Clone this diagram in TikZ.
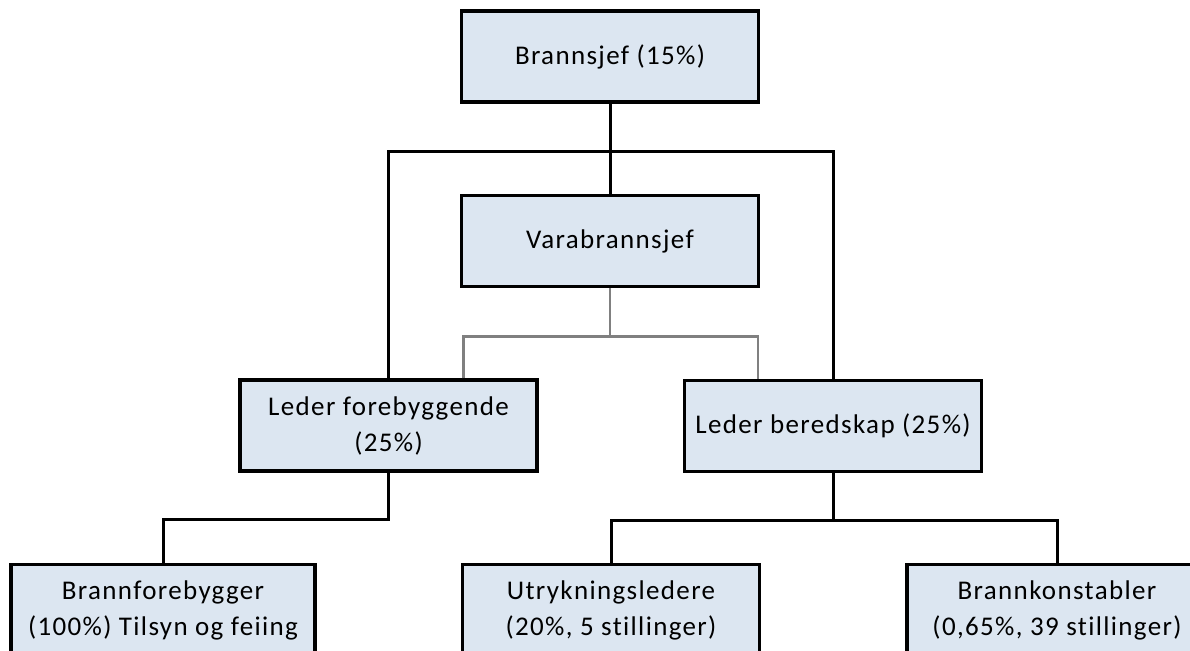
\documentclass[tikz,border=0pt]{standalone}
\usepackage{fontspec}
\setmainfont{Carlito}[LetterSpace=5,Ligatures=NoCommon]
\usetikzlibrary{calc}
\definecolor{boksfarge}{HTML}{DCE6F1}
\definecolor{graafarge}{HTML}{808080}
\begin{document}
\begin{tikzpicture}[x=1pt,y=-1pt,font=\fontsize{27}{36}\selectfont,
    boks/.style={draw=black,line width=3.5pt,fill=boksfarge,minimum width=297pt,
      minimum height=91pt,inner sep=0pt,align=center},
    linje/.style={line width=3pt},
    graalinje/.style={draw=graafarge,line width=2.5pt}]
    \useasboundingbox (0,0) rectangle (1190,650);
    \clip (0,0) rectangle (1190,650);
    % Bokser
    \node[boks] (sjef) at (610,56.5) {Brannsjef (15\%)};
    \node[boks] (vara) at (610,241) {Varabrannsjef};
    \node[boks] (forebygg) at (388.5,425.5) {Leder forebyggende\\(25\%)};
    \node[boks] (beredskap) at (833,426) {Leder beredskap (25\%)};
    \node[boks,minimum width=304pt] (brannfor) at (163,610) {Brannforebygger\\(100\%) Tilsyn og feiing};
    \node[boks] (utryk) at (611,610) {Utrykningsledere\\(20\%, 5 stillinger)};
    \node[boks,minimum width=300pt] (konst) at (1057,610) {Brannkonstabler\\(0,65\%, 39 stillinger)};
    % Linjer
    \path (sjef.south) ++(0,48) coordinate (skinne1);
    \draw[linje] (sjef.south) -- (vara.north);
    \draw[linje] (forebygg.north) |- (skinne1) -| (beredskap.north);
    \path (vara.south) ++(0,48) coordinate (skinne2);
    \coordinate (graaV) at ($(forebygg.north west)!0.75!(forebygg.north east)$);
    \coordinate (graaH) at ($(beredskap.north west)!0.25!(beredskap.north east)$);
    \draw[graalinje] (vara.south) -- (skinne2);
    \draw[graalinje] (graaV) |- (skinne2) -| (graaH);
    \path (forebygg.south) ++(0,47) coordinate (skinne3);
    \draw[linje] (forebygg.south) -- (skinne3) -| (brannfor.north);
    \path (beredskap.south) ++(0,47) coordinate (skinne4);
    \draw[linje] (beredskap.south) -- (skinne4);
    \draw[linje] (utryk.north) |- (skinne4) -| (konst.north);
\end{tikzpicture}
\end{document}
